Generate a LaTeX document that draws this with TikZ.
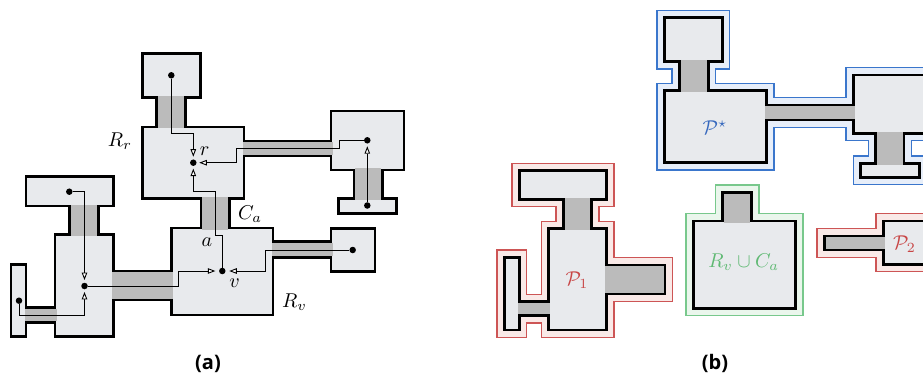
\documentclass[tikz,border=0pt]{standalone}
\usepackage{fontspec}
\newfontfamily\capfont{Open Sans}
\usetikzlibrary{arrows.meta}
\definecolor{roomfill}{RGB}{232,234,237}
\definecolor{corrfill}{RGB}{187,187,187}
\definecolor{pblue}{RGB}{58,118,204}
\definecolor{pbluet}{RGB}{231,238,249}
\definecolor{pred}{RGB}{205,85,85}
\definecolor{predt}{RGB}{249,233,231}
\definecolor{pgreen}{RGB}{120,200,140}
\definecolor{pgreent}{RGB}{234,246,236}
\definecolor{tblue}{RGB}{55,105,190}
\definecolor{tred}{RGB}{200,70,70}
\definecolor{tgreen}{RGB}{95,185,115}
% rectangles: left/top/right/bottom (px, y downwards)
% part (a)
\def\Arooms{142.3/53.3/200.7/97.3, 142.3/127/244/198.5, 331/111/404/170, 338.3/198.5/396.7/213.3, 171.7/228/273/315, 331/228.3/375/271.7, 55/234.3/113.3/336.7, 26/176.7/113.3/206, 11/264.3/26/336.7}
\def\AcorrsH{244/141/331/156, 273/241.7/331/257.3, 113.3/271/171.7/300, 26/307.7/55/322.3}
\def\AcorrsV{156.7/97.3/185.7/127, 354/170/382.3/198.5, 201/198.5/229.3/228, 69.3/206/98.3/234.3}
% part (b)
\def\Prooms{664.3/17.7/722.3/61.7, 664.3/90.7/766.5/162.7, 853.3/75/926/133.3, 860.7/163.3/919.5/177.3}
\def\PcorrsH{766.5/105/853.3/120}
\def\PcorrsV{679.3/61.7/708.3/90.7, 875.5/133.3/904/163.3}
\def\Pcorrs{766.5/105/853.3/120, 679.3/61.7/708.3/90.7, 875.5/133.3/904/163.3}
\def\Qrooms{519.3/170.7/606.7/199.3, 548.7/228.7/606.7/330, 504.3/257.3/519.3/330}
\def\QcorrsH{519.3/301.7/548.7/315.7}
\def\QcorrsV{563.3/199.3/591.7/228.7}
\def\Qcorrs{519.3/301.7/548.7/315.7, 563.3/199.3/591.7/228.7, 606.7/265/665/294}
\def\Grooms{693.3/221/795.7/308.3}
\def\Gcorrs{722.7/192.3/751.7/221}
\def\Trooms{883.3/221/927/264.3}
\def\Tcorrs{824.3/236/883.3/250}
\newcommand\myouter[2]{\foreach \a/\b/\c/\d in #1 {\fill[#2] (\a-8.0,\b-8.0) rectangle (\c+8.0,\d+8.0);}}
\newcommand\myinner[2]{\foreach \a/\b/\c/\d in #1 {\fill[#2] (\a-6.7,\b-6.7) rectangle (\c+6.7,\d+6.7);}}
\newcommand\mywalls[1]{\foreach \a/\b/\c/\d in #1 {\draw[wall] (\a,\b) rectangle (\c,\d);}}
\newcommand\myrooms[1]{\foreach \a/\b/\c/\d in #1 {\fill[roomfill] (\a+1.35,\b+1.35) rectangle (\c-1.35,\d-1.35);}}
\newcommand\mycorrH[1]{\foreach \a/\b/\c/\d in #1 {\fill[corrfill] (\a-1.5,\b+1.35) rectangle (\c+1.5,\d-1.35);}}
\newcommand\mycorrV[1]{\foreach \a/\b/\c/\d in #1 {\fill[corrfill] (\a+1.35,\b-1.5) rectangle (\c-1.35,\d+1.5);}}
\begin{document}
\begin{tikzpicture}[x=1pt,y=-1pt,
  wall/.style={draw=black,line width=2.7pt,line join=miter},
  conn/.style={line width=0.9pt,-{Triangle[fill=white,length=7.5pt,width=5.5pt]},shorten >=2.5pt},
  dot/.style={circle,fill=black,inner sep=0pt,minimum size=6.5pt},
  lab/.style={inner sep=0pt,scale=2.0,font=\fontsize{10}{12}\selectfont},
  subcap/.style={inner sep=0pt,font=\capfont\bfseries\fontsize{20}{24}\selectfont}]
\useasboundingbox (0,0) rectangle (923,374);
\clip (0,0) rectangle (923,374);
% ---------- (a) ----------
\mywalls\Arooms \mywalls\AcorrsH \mywalls\AcorrsV
\myrooms\Arooms \mycorrH\AcorrsH \mycorrV\AcorrsV
% ---------- (b) outlines ----------
\myouter\Prooms{pblue} \myouter\Pcorrs{pblue}
\myinner\Prooms{pbluet} \myinner\Pcorrs{pbluet}
\myouter\Qrooms{pred} \myouter\Qcorrs{pred}
\myinner\Qrooms{predt} \myinner\Qcorrs{predt}
\myouter\Grooms{pgreen} \myouter\Gcorrs{pgreen}
\myinner\Grooms{pgreent} \myinner\Gcorrs{pgreent}
\myouter\Trooms{pred} \myouter\Tcorrs{pred}
\myinner\Trooms{predt} \myinner\Tcorrs{predt}
% ---------- (b) bodies ----------
\mywalls\Prooms \mywalls\Pcorrs \mywalls\Qrooms \mywalls\Qcorrs
\mywalls\Grooms \mywalls\Gcorrs \mywalls\Trooms \mywalls\Tcorrs
\myrooms\Prooms \mycorrH\PcorrsH \mycorrV\PcorrsV
\myrooms\Qrooms \mycorrH\QcorrsH \mycorrV\QcorrsV
\fill[corrfill] (605.2,266.35) rectangle (663.65,292.65);
\myrooms\Grooms
\fill[corrfill] (724.05,193.65) rectangle (750.35,222.5);
\myrooms\Trooms
\fill[corrfill] (825.65,237.35) rectangle (884.8,248.65);
% ---------- dots ----------
\node[dot] (dt)  at (171.3,75.3) {};
\node[dot] (r)   at (193.3,162.7) {};
\node[dot] (drr) at (367.3,140.3) {};
\node[dot] (dbr) at (367.3,205.5) {};
\node[dot] (v)   at (222.3,271) {};
\node[dot] (dsr) at (352.7,250) {};
\node[dot] (dbg) at (84.5,286) {};
\node[dot] (dlt) at (69.3,191.7) {};
\node[dot] (dlm) at (19,300.7) {};
% ---------- connectors ----------
\draw[conn] (dt) |- (193.3,133.3) -- (r);
\draw[conn] (drr) -- (339,140.3) |- (236.5,148.3) |- (r);
\draw[conn] (dbr) -- (drr);
\draw[conn] (v) |- (215.5,235) |- (193.3,191) -- (r);
\draw[conn,shorten >=3.5pt] (dsr) -- (265.7,250) |- (v);
\draw[conn,shorten >=3.5pt] (dbg) -- (178.3,286) |- (v);
\draw[conn] (dlt) -| (dbg);
\draw[conn] (dlm) |- (84.5,315) -- (dbg);
% ---------- labels ----------
\node[lab] (lRr) at (120,141) {$R_r$};
\node[lab] (lr)  at (204.7,151) {$r$};
\node[lab] (lCa) at (250,214.5) {$C_a$};
\node[lab] (la)  at (207,241.7) {$a$};
\node[lab] (lv)  at (234.5,283) {$v$};
\node[lab] (lRv) at (294.5,302.5) {$R_v$};
\node[lab,text=tblue]  (lPs) at (715,127.5) {$\mathcal{P}^{\star}$};
\node[lab,text=tred]   (lP1) at (577,280) {$\mathcal{P}_1$};
\node[lab,text=tgreen] (lRC) at (743.7,262) {$R_v \cup C_a$};
\node[lab,text=tred]   (lP2) at (904.5,244.5) {$\mathcal{P}_2$};
\node[subcap] (capa) at (208,364) {(a)};
\node[subcap] (capb) at (715,363) {(b)};
\end{tikzpicture}
\end{document}
